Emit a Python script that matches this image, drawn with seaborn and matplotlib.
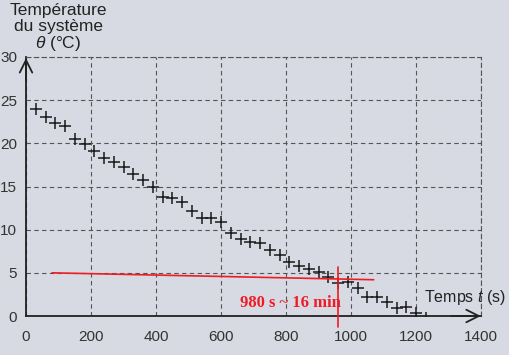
import matplotlib
matplotlib.use("Agg")
import matplotlib.pyplot as plt
import seaborn as sns
import pandas as pd

# mesures : temps (s) et température du système (°C)
temps = [30, 60, 90, 120, 150, 180, 210, 240, 270, 300, 330, 360, 390, 420,
         450, 480, 510, 540, 570, 600, 630, 660, 690, 720, 750, 780, 810, 840,
         870, 900, 930, 960, 990, 1020, 1050, 1080, 1110, 1140, 1170, 1200, 1230]
theta = [24.0, 23.0, 22.4, 22.0, 20.45, 19.9, 19.1, 18.25, 17.8, 17.3, 16.4,
         15.8, 14.9, 13.8, 13.7, 13.2, 12.2, 11.4, 11.4, 10.9, 9.6, 8.95, 8.6,
         8.4, 7.6, 7.06, 6.3, 5.8, 5.5, 5.1, 4.55, 3.85, 3.97, 3.2, 2.24, 2.24,
         1.66, 0.9, 1.0, 0.3, -0.2]

xticks = [0, 200, 400, 600, 800, 1000, 1200, 1400]
yticks = [0, 5, 10, 15, 20, 25, 30]

# annotation rouge
seuil_t = [80, 1070]
seuil_theta = [5.0, 4.2]
t_lu = 960
note = "980 s ~ 16 min"

df = pd.DataFrame({"t": temps, "theta": theta})

sns.set_style("white")
plt.rcParams["font.family"] = ["Liberation Sans", "DejaVu Sans"]
plt.rcParams["mathtext.fontset"] = "custom"
plt.rcParams["mathtext.it"] = "Liberation Sans:italic"
plt.rcParams["mathtext.rm"] = "Liberation Sans"

bg = "#d7dae2"
fig = plt.figure(figsize=(5.09, 3.55), dpi=100, facecolor=bg)
ax = fig.add_axes([26 / 509, 39 / 355, 455 / 509, 259 / 355])
ax.set_facecolor(bg)

sns.scatterplot(data=df, x="t", y="theta", marker="+", s=65, color="#1a1a1a",
                linewidth=1.1, ax=ax, zorder=3)

ax.set_xlim(0, 1400)
ax.set_ylim(0, 30)
ax.set_xticks(xticks)
ax.set_yticks(yticks)
ax.set_xlabel("")
ax.set_ylabel("")

ax.grid(True, linestyle=(0, (4, 3)), color="#555555", linewidth=0.8)
for side in ["top", "right"]:
    ax.spines[side].set_linestyle((0, (4, 3)))
    ax.spines[side].set_color("#555555")
    ax.spines[side].set_linewidth(0.8)
for side in ["left", "bottom"]:
    ax.spines[side].set_color("#222222")
    ax.spines[side].set_linewidth(1.3)

ax.tick_params(axis="y", direction="inout", length=7, width=1, pad=3,
               labelsize=11, labelcolor="#333333")
ax.tick_params(axis="x", length=0, pad=10, labelsize=11, labelcolor="#333333")

# flèches des axes
arrow = dict(arrowstyle="->,head_length=0.9,head_width=0.45", color="#222222", lw=1.3)
ax.annotate("", xy=(1408, 0), xytext=(1300, 0), arrowprops=arrow,
            annotation_clip=False)
ax.annotate("", xy=(0, 30.2), xytext=(0, 27), arrowprops=arrow,
            annotation_clip=False)

# titres des axes
fig.text(58 / 509, 1 - 3 / 355, "Température\ndu système\n" + r"$\theta$ (°C)",
         ha="center", va="top", fontsize=12.5, color="#222222", linespacing=1.05)
ax.text(1226, 2.1, r"Temps $t$ (s)", ha="left", va="center", fontsize=11.5,
        color="#222222", clip_on=False)

# lecture graphique
red = "#ee1c25"
ax.plot(seuil_t, seuil_theta, color=red, lw=1.2, zorder=4)
ax.plot([t_lu, t_lu], [5.7, -1.3], color=red, lw=1.2, zorder=4, clip_on=False)
ax.text(t_lu + 10, 1.5, note, color=red, ha="right", va="center", fontsize=12,
        fontweight="bold", family=["Liberation Serif", "DejaVu Serif"], zorder=5)

fig.savefig("out.png", dpi=100, facecolor=bg)
